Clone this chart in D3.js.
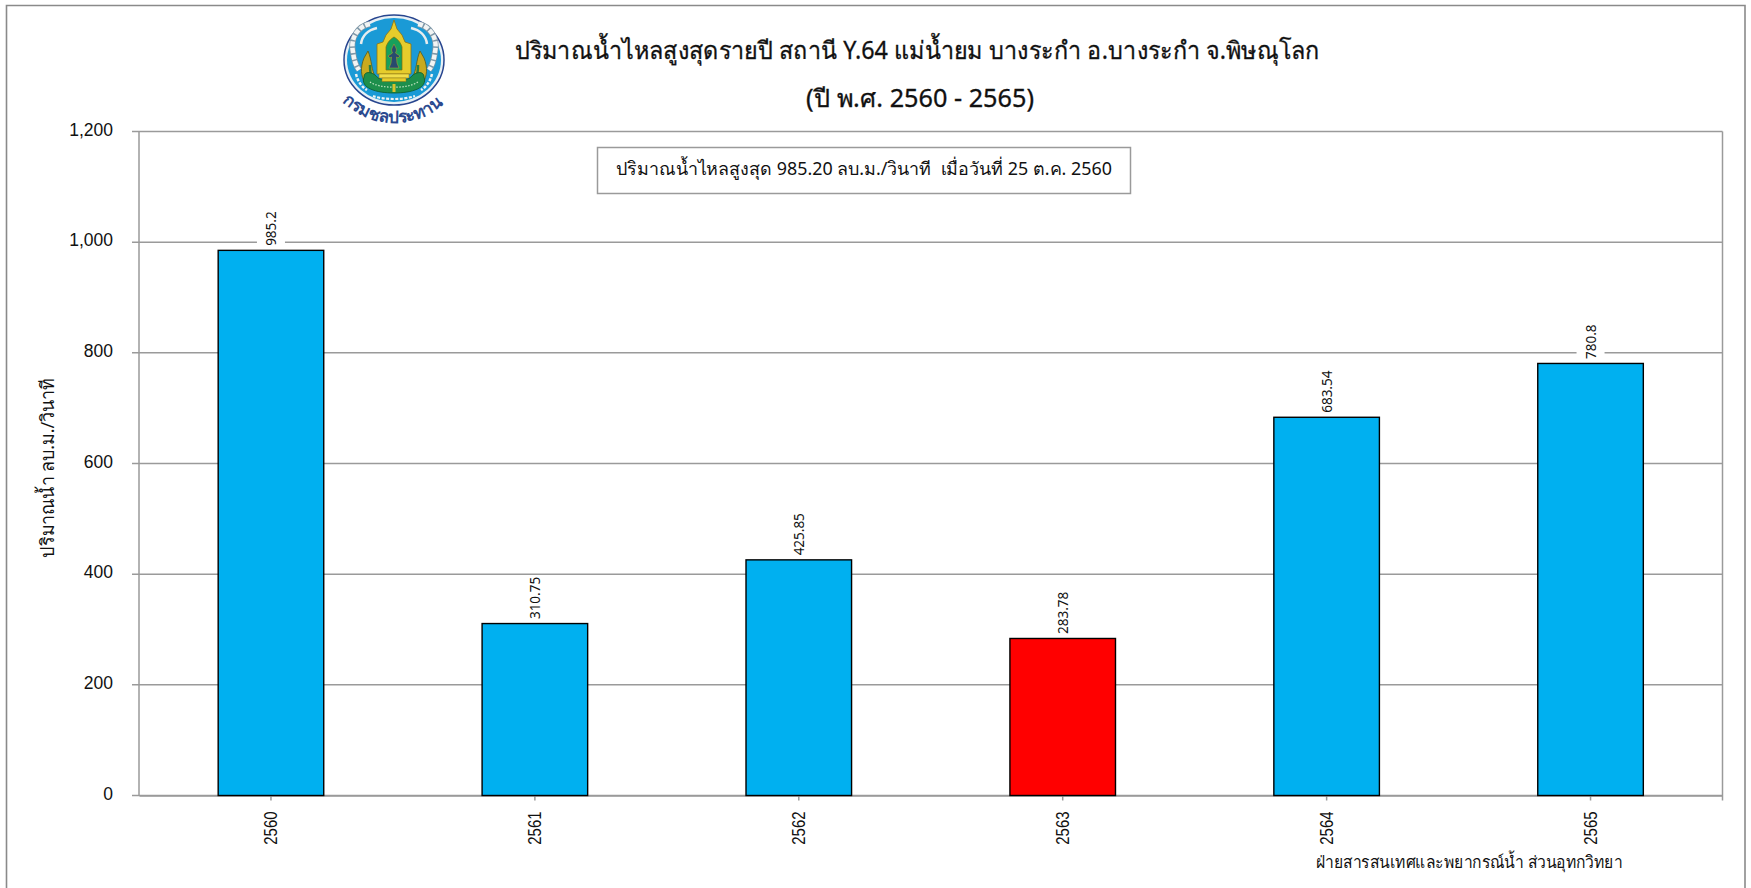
<!DOCTYPE html>
<html>
<head>
<meta charset="utf-8">
<title>Y.64</title>
<script src="https://cdn.jsdelivr.net/npm/d3@7"></script>
<style>
    html, body { margin: 0; padding: 0; background: #fff; overflow: hidden; }
    text { font-family: "Noto Sans", "Open Sans", sans-serif; fill: #111; white-space: pre; }
    .axis text { font-family: "Liberation Sans", sans-serif; }
</style>
</head>
<body>
<div id="chart"></div>
<script>
/*jshint esversion: 6 */

let years = ["2560", "2561", "2562", "2563", "2564", "2565"];
let peakFlow = [985.2, 310.75, 425.85, 283.78, 683.54, 780.8];
let barColours = ["#00b0f0", "#00b0f0", "#00b0f0", "#ff0000", "#00b0f0", "#00b0f0"];
let yTicks = [0, 200, 400, 600, 800, 1000, 1200];

let titleLines = [
    "ปริมาณน้ำไหลสูงสุดรายปี สถานี Y.64 แม่น้ำยม บางระกำ อ.บางระกำ จ.พิษณุโลก",
    "(ปี พ.ศ. 2560 - 2565)"
];
let titleLengths = [805, 228];
let titleCentres = [917, 920];
let noteText = "ปริมาณน้ำไหลสูงสุด 985.20 ลบ.ม./วินาที  เมื่อวันที่ 25 ต.ค. 2560";
let yAxisTitle = "ปริมาณน้ำ ลบ.ม./วินาที";
let sourceText = "ฝ่ายสารสนเทศและพยากรณ์น้ำ ส่วนอุทกวิทยา";
let logoText = "กรมชลประทาน";

let margin = { top: 131.5, left: 139 };
let width = 1583.5;
let height = 664;
let gridColour = "#9a9a9a";

let svg = d3.select("#chart").append("svg")
    .attr("width", 1751)
    .attr("height", 888);

// outer frame, runs off the bottom of the picture
svg.append("path")
    .attr("d", "M6.5,888V5.5H1745V888")
    .attr("fill", "none")
    .attr("stroke", "#8a8a8a")
    .attr("stroke-width", 1.6);

drawLogo(svg.append("g").attr("transform", "translate(394,60)"));

svg.selectAll(".title")
    .data(titleLines)
    .enter()
    .append("text")
    .attr("class", "title")
    .attr("x", function (d, i) { return titleCentres[i]; })
    .attr("y", function (d, i) { return 59 + i * 48; })
    .attr("text-anchor", "middle")
    .attr("textLength", function (d, i) { return titleLengths[i]; })
    .attr("lengthAdjust", "spacingAndGlyphs")
    .style("font-size", "24.5px")
    .style("stroke", "#111")
    .style("stroke-width", 0.3)
    .text(function (d) { return d; });

let x = d3.scaleBand().domain(years).range([0, width]).paddingInner(0.6).paddingOuter(0.3);
let y = d3.scaleLinear().domain([0, 1200]).range([height, 0]);

let g = svg.append("g")
    .attr("transform", "translate(" + margin.left + "," + margin.top + ")");

// gridlines stick out to the left as tick marks
g.append("g")
    .selectAll("line")
    .data(yTicks)
    .enter()
    .append("line")
    .attr("x1", -7)
    .attr("x2", width)
    .attr("y1", function (d) { return y(d); })
    .attr("y2", function (d) { return y(d); })
    .attr("stroke", gridColour)
    .attr("stroke-width", 1.5);

g.append("line")
    .attr("x1", 0).attr("x2", 0)
    .attr("y1", 0).attr("y2", height)
    .attr("stroke", gridColour).attr("stroke-width", 1.5);

g.append("line")
    .attr("x1", width).attr("x2", width)
    .attr("y1", 0).attr("y2", height + 5)
    .attr("stroke", gridColour).attr("stroke-width", 1.5);

let yAxis = g.append("g")
    .attr("class", "axis")
    .call(d3.axisLeft(y).tickValues(yTicks).tickSize(0).tickPadding(26).tickFormat(d3.format(",")));
yAxis.select(".domain").remove();
yAxis.selectAll("text")
    .attr("dy", "0.2em")
    .style("font-size", "17.5px");

let xAxis = g.append("g")
    .attr("class", "axis")
    .attr("transform", "translate(0," + height + ")")
    .call(d3.axisBottom(x).tickSize(5).tickSizeOuter(0).tickPadding(0));
xAxis.select(".domain").attr("stroke", gridColour).attr("stroke-width", 1.6);
xAxis.selectAll("line").attr("stroke", gridColour).attr("stroke-width", 1.5);
xAxis.selectAll("text")
    .attr("transform", "rotate(-90) scale(0.83,1)")
    .attr("x", -16 / 0.83)
    .attr("y", 0)
    .attr("dy", "0.35em")
    .attr("text-anchor", "end")
    .style("font-size", "18px");

let bar = g.selectAll(".bar")
    .data(years)
    .enter()
    .append("g")
    .attr("class", "bar");

bar.append("rect")
    .attr("x", function (d) { return x(d); })
    .attr("y", function (d, i) { return y(peakFlow[i]); })
    .attr("width", x.bandwidth())
    .attr("height", function (d, i) { return height - y(peakFlow[i]); })
    .attr("fill", function (d, i) { return barColours[i]; })
    .attr("stroke", "#000")
    .attr("stroke-width", 1.4);

// value labels are turned and have a white plate that cuts the gridline
let valueLabel = bar.append("g")
    .attr("transform", function (d, i) {
        return "translate(" + (x(d) + x.bandwidth() / 2) + "," + (y(peakFlow[i]) - 4.5) + ") rotate(-90)";
    });
valueLabel.append("text")
    .attr("transform", "scale(0.9,1)")
    .attr("dy", "0.35em")
    .style("font-size", "15px")
    .text(function (d, i) { return peakFlow[i]; });
valueLabel.each(function () {
    let box = d3.select(this).select("text").node().getBBox();
    d3.select(this).insert("rect", "text")
        .attr("x", 0)
        .attr("y", -14)
        .attr("width", box.width * 0.9 - 2)
        .attr("height", 28)
        .attr("fill", "#fff");
});

svg.append("rect")
    .attr("x", 597.5)
    .attr("y", 147.5)
    .attr("width", 533)
    .attr("height", 46)
    .attr("fill", "#fff")
    .attr("stroke", gridColour)
    .attr("stroke-width", 1.5);

svg.append("text")
    .attr("x", 864)
    .attr("y", 175)
    .attr("text-anchor", "middle")
    .attr("textLength", 496)
    .attr("lengthAdjust", "spacingAndGlyphs")
    .style("font-size", "18px")
    .text(noteText);

svg.append("text")
    .attr("transform", "translate(54,468) rotate(-90)")
    .attr("text-anchor", "middle")
    .attr("textLength", 179)
    .attr("lengthAdjust", "spacingAndGlyphs")
    .style("font-size", "18.5px")
    .text(yAxisTitle);

svg.append("text")
    .attr("x", 1469)
    .attr("y", 868)
    .attr("text-anchor", "middle")
    .attr("textLength", 307)
    .attr("lengthAdjust", "spacingAndGlyphs")
    .style("font-size", "16.5px")
    .text(sourceText);

// Royal Irrigation Department emblem, drawn by hand from simple shapes
function drawLogo(logo) {
    logo.append("ellipse").attr("rx", 50).attr("ry", 45)
        .attr("fill", "#e8f0f5").attr("stroke", "#27458f").attr("stroke-width", 1.5);
    logo.append("ellipse").attr("rx", 47).attr("ry", 42).attr("fill", "#1a9ad6");

    [-1, 1].forEach(function (s) {
        // white scrolls, upper corners down the sides
        logo.append("path")
            .attr("d", "M" + (s * 24) + ",-36C" + (s * 36) + ",-34 " + (s * 44) + ",-22 " + (s * 41) + ",-8"
                + "C" + (s * 40) + ",0 " + (s * 38) + ",6 " + (s * 35) + ",10")
            .attr("fill", "none").attr("stroke", "#7f98a8").attr("stroke-width", 6);
        logo.append("path")
            .attr("d", "M" + (s * 24) + ",-36C" + (s * 36) + ",-34 " + (s * 44) + ",-22 " + (s * 41) + ",-8"
                + "C" + (s * 40) + ",0 " + (s * 38) + ",6 " + (s * 35) + ",10")
            .attr("fill", "none").attr("stroke", "#f2f4f4").attr("stroke-width", 4.5)
            .attr("stroke-dasharray", "5 1.5");
        logo.append("path")
            .attr("d", "M" + (s * 17) + ",-32C" + (s * 26) + ",-30 " + (s * 32) + ",-24 " + (s * 33) + ",-16")
            .attr("fill", "none").attr("stroke", "#e6ecee").attr("stroke-width", 2.5);
        logo.append("path")
            .attr("d", "M" + (s * 38) + ",14C" + (s * 36) + ",22 " + (s * 32) + ",27 " + (s * 27) + ",30")
            .attr("fill", "none").attr("stroke", "#eef2f2").attr("stroke-width", 2.5)
            .attr("stroke-dasharray", "3 1.5");
        // naga necks and heads beside the pavilion
        logo.append("path")
            .attr("d", "M" + (s * 18) + ",18C" + (s * 23) + ",10 " + (s * 22) + ",0 " + (s * 26) + ",-9"
                + "L" + (s * 30) + ",-2C" + (s * 34) + ",8 " + (s * 33) + ",16 " + (s * 29) + ",23Z")
            .attr("fill", "#c9aa1f").attr("stroke", "#5c5a18").attr("stroke-width", 0.8);
        logo.append("path")
            .attr("d", "M" + (s * 24) + ",5C" + (s * 24) + ",10 " + (s * 24) + ",14 " + (s * 22) + ",18")
            .attr("fill", "none").attr("stroke", "#2a7d3f").attr("stroke-width", 2.5);
    });

    // green naga coil under the seat
    logo.append("path")
        .attr("d", "M-30,17C-30,10 -20,12 -16,18C-8,22 8,22 16,18C20,12 30,10 30,17C34,28 18,33 0,33C-18,33 -34,28 -30,17Z")
        .attr("fill", "#1d8f4c").attr("stroke", "#0c5a2b").attr("stroke-width", 0.8);
    logo.append("path")
        .attr("d", "M-24,22C-14,29 14,29 24,22")
        .attr("fill", "none").attr("stroke", "#bfe3c0").attr("stroke-width", 1.2)
        .attr("stroke-dasharray", "1.5 1.5");
    logo.append("rect").attr("x", -1.5).attr("y", 24).attr("width", 3).attr("height", 8).attr("fill", "#d9c22a");

    // white scallops along the bottom
    logo.append("path")
        .attr("d", "M-21,36C-10,40 10,40 21,36")
        .attr("fill", "none").attr("stroke", "#eef2f2").attr("stroke-width", 2.2)
        .attr("stroke-dasharray", "3 1.5");

    // gold pavilion with its spire
    logo.append("path")
        .attr("d", "M0,-40L3,-31L8,-25L11,-18L17,-16V14H-17V-16L-11,-18L-8,-25L-3,-31Z")
        .attr("fill", "#e6cc2c").attr("stroke", "#8a7414").attr("stroke-width", 0.8);
    logo.append("path")
        .attr("d", "M-8,10V-13C-6,-19 -3,-21 0,-23C3,-21 6,-19 8,-13V10Z")
        .attr("fill", "#17a05c").attr("stroke", "#7a6a10").attr("stroke-width", 0.7);
    logo.append("rect").attr("x", -15).attr("y", 14).attr("width", 30).attr("height", 4)
        .attr("fill", "#f1de4a").attr("stroke", "#8a7414").attr("stroke-width", 0.5);
    logo.append("rect").attr("x", -12).attr("y", 18).attr("width", 24).attr("height", 3.5)
        .attr("fill", "#e6cc2c").attr("stroke", "#8a7414").attr("stroke-width", 0.5);

    // figure on the seat
    logo.append("path")
        .attr("d", "M0,-16L2,-12C3,-10 2,-8 1.5,-7L6,-4L4,-2L2.5,-3L3,3L5,8H-5L-3,3L-2.5,-3L-4,-2L-6,-4L-1.5,-7C-2,-8 -3,-10 -2,-12Z")
        .attr("fill", "#274a6e").attr("stroke", "#c9a81e").attr("stroke-width", 0.5);

    logo.append("path")
        .attr("id", "logo-arc")
        .attr("d", "M-52,42Q0,84 53,42")
        .attr("fill", "none");
    logo.append("text")
        .style("font-size", "17px")
        .style("font-weight", 700)
        .style("fill", "#2b4a8f")
        .append("textPath")
        .attr("href", "#logo-arc")
        .attr("textLength", 112)
        .attr("lengthAdjust", "spacing")
        .text(logoText);
}
</script>
</body>
</html>
